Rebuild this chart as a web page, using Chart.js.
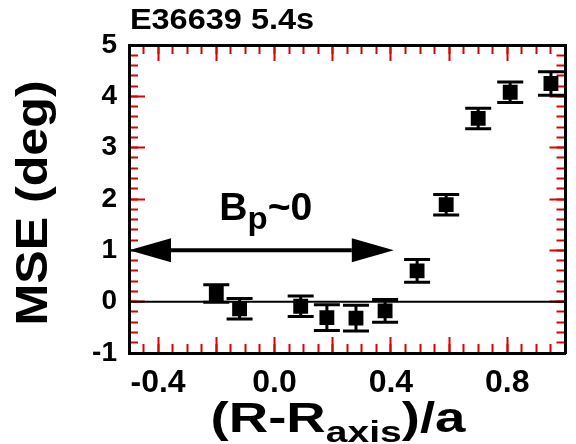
<!DOCTYPE html>
<html>
<head>
<meta charset="utf-8">
<script src="https://cdn.jsdelivr.net/npm/chart.js@4.4.1/dist/chart.umd.min.js"></script>
<style>
  html, body { margin: 0; padding: 0; background: #fff; }
</style>
</head>
<body>
<canvas id="mseChart" width="576" height="444"></canvas>
<script>
// values
const rPos   = [-0.20, -0.12, 0.09, 0.18, 0.28, 0.38, 0.49, 0.59, 0.70, 0.81, 0.95];
const mse    = [0.16, -0.14, -0.09, -0.31, -0.32, -0.18, 0.60, 1.89, 3.57, 4.08, 4.25];
const mseErr = [0.17, 0.20, 0.20, 0.25, 0.25, 0.22, 0.22, 0.20, 0.20, 0.20, 0.23];

const xTicks = [-0.4, 0.0, 0.4, 0.8];
const yTicks = [-1, 0, 1, 2, 3, 4, 5];

// the "Bp~0" arrow, in data units
const arrowY = 1.0;
const arrowX = [-0.5, 0.41];

const FONT = 'Liberation Sans, Arial, Helvetica, sans-serif';
const TICK_COLOR = '#d00';

function stepValues(lo, hi, step) {
  const out = [];
  const n = Math.round((hi - lo) / step);
  for (let i = 0; i <= n; i++) out.push(+(lo + i * step).toFixed(4));
  return out;
}

function drawPieces(ctx, pieces, cx, baseY, stretch) {
  let total = 0;
  for (const p of pieces) {
    ctx.font = p.font;
    p.w = ctx.measureText(p.text).width;
    total += p.w;
  }
  ctx.save();
  ctx.translate(cx - total * stretch / 2, baseY);
  ctx.scale(stretch, 1);
  let tx = 0;
  for (const p of pieces) {
    ctx.font = p.font;
    ctx.fillText(p.text, tx, p.dy || 0);
    tx += p.w;
  }
  ctx.restore();
}

const decorPlugin = {
  id: 'decor',
  beforeDatasetsDraw(chart) {
    const { ctx, scales: { x, y } } = chart;
    ctx.save();
    ctx.strokeStyle = '#000';
    ctx.fillStyle = '#000';
    const L = x.getPixelForValue(-0.5), R = x.getPixelForValue(1.0);

    const y0 = y.getPixelForValue(0);
    ctx.lineWidth = 2;
    ctx.beginPath();
    ctx.moveTo(L, y0);
    ctx.lineTo(R, y0);
    ctx.stroke();

    const ay = y.getPixelForValue(arrowY);
    const ax0 = x.getPixelForValue(arrowX[0]);
    const ax1 = x.getPixelForValue(arrowX[1]);
    const headL = 42, headH = 12;
    ctx.lineWidth = 4;
    ctx.beginPath();
    ctx.moveTo(ax0 + headL, ay);
    ctx.lineTo(ax1 - headL, ay);
    ctx.stroke();
    ctx.beginPath();
    ctx.moveTo(ax0, ay);
    ctx.lineTo(ax0 + headL, ay - headH);
    ctx.lineTo(ax0 + headL, ay + headH);
    ctx.closePath();
    ctx.fill();
    ctx.beginPath();
    ctx.moveTo(ax1, ay);
    ctx.lineTo(ax1 - headL, ay - headH);
    ctx.lineTo(ax1 - headL, ay + headH);
    ctx.closePath();
    ctx.fill();

    ctx.lineWidth = 3;
    for (let i = 0; i < rPos.length; i++) {
      const px = x.getPixelForValue(rPos[i]);
      const top = y.getPixelForValue(mse[i] + mseErr[i]);
      const bot = y.getPixelForValue(mse[i] - mseErr[i]);
      ctx.beginPath();
      ctx.moveTo(px, top);
      ctx.lineTo(px, bot);
      ctx.moveTo(px - 13, top);
      ctx.lineTo(px + 13, top);
      ctx.moveTo(px - 13, bot);
      ctx.lineTo(px + 13, bot);
      ctx.stroke();
    }
    ctx.restore();
  },
  afterDraw(chart) {
    const { ctx, chartArea: a, scales: { x, y } } = chart;
    ctx.save();
    ctx.fillStyle = '#000';
    ctx.textBaseline = 'alphabetic';
    ctx.textAlign = 'left';

    drawPieces(ctx, [{ text: 'E36639 5.4s', font: 'bold 29px ' + FONT }], 222, 29, 1.12);

    drawPieces(ctx, [
      { text: 'B', font: 'bold 38px ' + FONT },
      { text: 'p', font: 'bold 32px ' + FONT, dy: 9 },
      { text: '~0', font: 'bold 38px ' + FONT }
    ], x.getPixelForValue(-0.03), y.getPixelForValue(1.6), 1.03);

    drawPieces(ctx, [
      { text: '(R-R', font: 'bold 42px ' + FONT },
      { text: 'axis', font: 'bold 30px ' + FONT, dy: 10 },
      { text: ')/a', font: 'bold 42px ' + FONT }
    ], 338, 432, 1.3);

    ctx.translate(47, (a.top + a.bottom) / 2 + 4);
    ctx.rotate(-Math.PI / 2);
    drawPieces(ctx, [{ text: 'MSE (deg)', font: 'bold 44px ' + FONT }], 0, 0, 1.14);
    ctx.restore();
  }
};

const frameBorder = { display: true, color: '#000', width: 3 };
const noBorder = { display: false };

// zero-size axis that only draws inward tick marks
function tickAxis(position, min, max, values, len) {
  const horizontal = position === 'top' || position === 'bottom';
  return {
    type: 'linear',
    position: position,
    min: min,
    max: max,
    weight: -1,
    afterFit: s => { if (horizontal) s.height = 0; else s.width = 0; },
    afterBuildTicks: s => { s.ticks = values.map(v => ({ value: v })); },
    grid: {
      display: true,
      drawOnChartArea: false,
      drawTicks: true,
      tickLength: -len,
      tickWidth: 2,
      tickColor: TICK_COLOR
    },
    border: noBorder,
    ticks: { display: false }
  };
}

const xMajor = stepValues(-0.4, 1.0, 0.2);
const xMinor = stepValues(-0.5, 1.0, 0.05);
const yMajor = stepValues(-1, 5, 1);
const yMinor = stepValues(-1, 5, 0.2);

new Chart(document.getElementById('mseChart'), {
  type: 'scatter',
  data: {
    datasets: [{
      label: 'MSE',
      data: rPos.map((r, i) => ({ x: r, y: mse[i] })),
      pointStyle: 'rect',
      pointRadius: 10.5,
      pointHoverRadius: 10.5,
      backgroundColor: '#000',
      borderWidth: 0
    }]
  },
  options: {
    responsive: false,
    animation: false,
    layout: { padding: { left: 0, top: 45, right: 5, bottom: 0 } },
    plugins: { legend: { display: false }, tooltip: { enabled: false } },
    scales: {
      x: {
        type: 'linear',
        min: -0.5,
        max: 1.0,
        afterFit: s => { s.height = 91; },
        afterBuildTicks: s => { s.ticks = xTicks.map(v => ({ value: v })); },
        grid: { display: false },
        border: frameBorder,
        ticks: {
          padding: 3,
          color: '#000',
          font: { family: FONT, size: 32, weight: 'bold' },
          callback: v => v.toFixed(1),
          maxRotation: 0
        }
      },
      x2: {
        type: 'linear',
        position: 'top',
        min: -0.5,
        max: 1.0,
        afterFit: s => { s.height = 0; },
        grid: { display: false },
        border: frameBorder,
        ticks: { display: false }
      },
      y: {
        min: -1,
        max: 5,
        afterFit: s => { s.width = 129; },
        afterBuildTicks: s => { s.ticks = yTicks.map(v => ({ value: v })); },
        grid: { display: false },
        border: frameBorder,
        ticks: {
          padding: 4,
          color: '#000',
          font: { family: FONT, size: 28, weight: 'bold' },
          callback: v => String(v)
        }
      },
      y2: {
        position: 'right',
        min: -1,
        max: 5,
        afterFit: s => { s.width = 0; },
        grid: { display: false },
        border: frameBorder,
        ticks: { display: false }
      },
      xBotMajor: tickAxis('bottom', -0.5, 1.0, xMajor, 16),
      xBotMinor: tickAxis('bottom', -0.5, 1.0, xMinor, 9),
      xTopMajor: tickAxis('top', -0.5, 1.0, xMajor, 16),
      xTopMinor: tickAxis('top', -0.5, 1.0, xMinor, 9),
      yLeftMajor: tickAxis('left', -1, 5, yMajor, 16),
      yLeftMinor: tickAxis('left', -1, 5, yMinor, 9),
      yRightMajor: tickAxis('right', -1, 5, yMajor, 16),
      yRightMinor: tickAxis('right', -1, 5, yMinor, 9)
    }
  },
  plugins: [decorPlugin]
});
</script>
</body>
</html>
